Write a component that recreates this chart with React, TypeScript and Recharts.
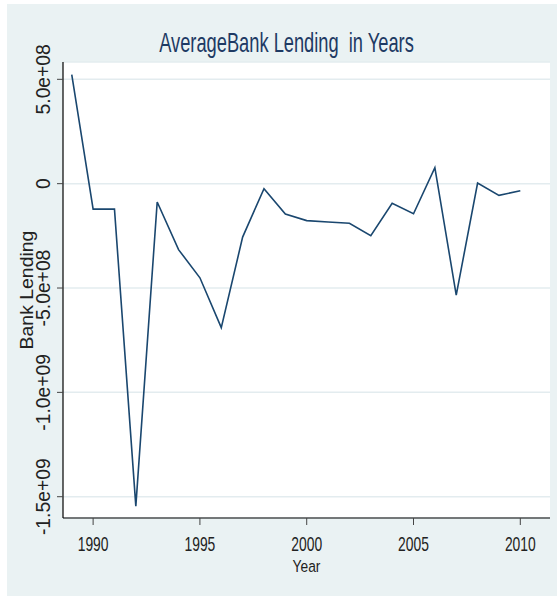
import React from "react";
import {CartesianGrid, Line, LineChart, XAxis, YAxis} from "recharts";

const years = [1989, 1990, 1991, 1992, 1993, 1994, 1995, 1996, 1997, 1998, 1999,
    2000, 2001, 2002, 2003, 2004, 2005, 2006, 2007, 2008, 2009, 2010];
const lending = [5.23e8, -1.22e8, -1.22e8, -1.545e9, -0.88e8, -3.16e8, -4.51e8, -6.9e8, -2.56e8, -0.24e8, -1.46e8,
    -1.77e8, -1.84e8, -1.9e8, -2.49e8, -0.94e8, -1.44e8, 0.77e8, -5.34e8, 0.03e8, -0.56e8, -0.34e8];
const yearTicks = [1990, 1995, 2000, 2005, 2010];
const lendingTicks = [-1.5e9, -1e9, -5e8, 0, 5e8];
const lendingLabels = ["-1.5e+09", "-1.0e+09", "-5.0e+08", "0", "5.0e+08"];

const data = years.map((y, i) => ({year: y, value: lending[i]}));

const FONT = "'Liberation Sans', Arial, sans-serif";
const BG = "#eaf2f3";
const NAVY = "#1a476f";

const YTick = (props: any) => {
    const {x, y, payload} = props;
    const idx = lendingTicks.indexOf(payload.value);
    const label = idx >= 0 ? lendingLabels[idx] : String(payload.value);
    return (
        <g transform={`translate(${x - 5},${y}) rotate(-90) scale(0.92,1)`}>
            <text textAnchor="middle" fontSize={21} fontFamily={FONT} fill="#222">{label}</text>
        </g>
    );
};

const XTick = (props: any) => {
    const {x, y, payload} = props;
    return (
        <g transform={`translate(${x},${y + 24}) scale(0.66,1)`}>
            <text textAnchor="middle" fontSize={21} fontFamily={FONT} fill="#222">{payload.value}</text>
        </g>
    );
};

const YTitle = (props: any) => {
    const vb = props.viewBox;
    return (
        <g transform={`translate(33,${vb.y + vb.height / 2}) rotate(-90) scale(1.08,1)`}>
            <text textAnchor="middle" fontSize={18} fontFamily={FONT} fill="#222">Bank Lending</text>
        </g>
    );
};

const XTitle = (props: any) => {
    const vb = props.viewBox;
    return (
        <g transform={`translate(${vb.x + vb.width / 2},572) scale(0.81,1)`}>
            <text textAnchor="middle" fontSize={17} fontFamily={FONT} fill="#222">Year</text>
        </g>
    );
};

export default function App() {
    return (
        <div style={{position: "absolute", left: 0, top: 0, width: 557, height: 596, background: "#fff"}}>
            <div style={{position: "absolute", left: 7, top: 4, width: 550, height: 592, background: BG}}/>
            <div style={{position: "absolute", left: 0, top: 0}}>
                <LineChart width={557} height={596} data={data}
                           margin={{top: 62, right: 7, left: 0, bottom: 0}}>
                    <CartesianGrid vertical={false} fill="#fff" stroke="#e3ecef" strokeWidth={1.5}/>
                    <XAxis dataKey="year" type="number" domain={[1988.59, 2011.39]} ticks={yearTicks}
                           allowDataOverflow height={78} tickSize={7} tick={<XTick/>}
                           axisLine={{stroke: "#000", strokeWidth: 1.2}} tickLine={{stroke: "#444"}}
                           label={{content: <XTitle/>}}/>
                    <YAxis type="number" domain={[-1.602e9, 5.83e8]} ticks={lendingTicks}
                           allowDataOverflow width={63} tickSize={6} tick={<YTick/>}
                           axisLine={{stroke: "#000", strokeWidth: 1.2}} tickLine={{stroke: "#444"}}
                           label={{content: <YTitle/>}}/>
                    <Line type="linear" dataKey="value" stroke={NAVY} strokeWidth={1.6} dot={false}
                          isAnimationActive={false}/>
                </LineChart>
            </div>
            <svg width={557} height={596} style={{position: "absolute", left: 0, top: 0, pointerEvents: "none"}}>
                <g transform="translate(286.5,51.7) scale(0.653,1)">
                    <text textAnchor="middle" fontSize={28} fontFamily={FONT} fill="#1e3a64">
                        {"AverageBank Lending\u00a0 in Years"}
                    </text>
                </g>
            </svg>
        </div>
    );
}
